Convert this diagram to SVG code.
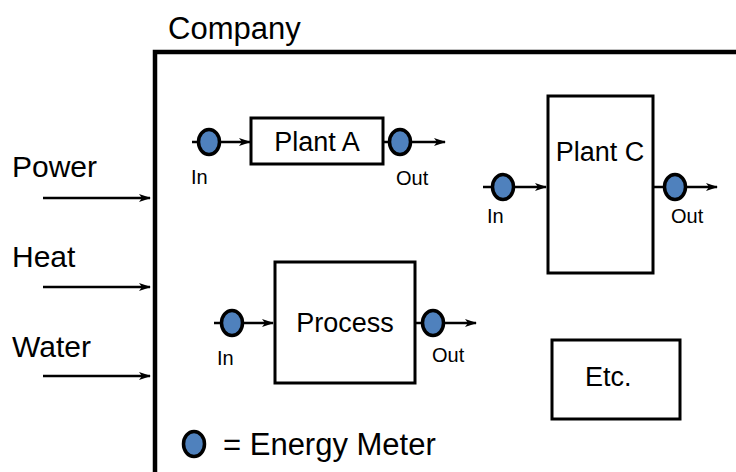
<svg xmlns="http://www.w3.org/2000/svg" width="736" height="472" viewBox="0 0 736 472">
<style>
text{font-family:"Liberation Sans",Arial,sans-serif;fill:#000}
.big{font-size:30px}
.node{font-size:27px}
.small{font-size:20px}
.box{fill:#fff;stroke:#000;stroke-width:3}
.meter{fill:#4F81BD;stroke:#000;stroke-width:3.5}
.arrow{fill:none;stroke:#000;stroke-width:2.5;marker-end:url(#ah)}
</style>
<defs>
<marker id="ah" markerWidth="12" markerHeight="10" refX="11" refY="5" orient="auto" markerUnits="userSpaceOnUse">
<path d="M0,1 L12,5 L0,9 L3,5 Z" fill="#000"/>
</marker>
<ellipse id="m" cx="0" cy="0" rx="10.5" ry="12.5" class="meter"/>
</defs>
<rect width="736" height="472" fill="#fff"/>
<g id="company">
<path d="M155,472 V52 H736" fill="none" stroke="#000" stroke-width="4.5"/>
<text class="big" x="168" y="39" style="font-size:31px">Company</text>
</g>
<g id="inputs">
<text class="big" x="12" y="177">Power</text>
<text class="big" x="12" y="267">Heat</text>
<text class="big" x="12" y="357">Water</text>
</g>
<g id="plantA">
<rect class="box" x="251" y="118" width="132" height="46"/>
<text class="node" x="317" y="151" text-anchor="middle">Plant A</text>
</g>
<g id="plantC">
<rect class="box" x="548" y="96" width="105" height="177"/>
<text class="node" x="600" y="161" text-anchor="middle">Plant C</text>
</g>
<g id="process">
<rect class="box" x="275" y="262" width="140" height="121"/>
<text class="node" x="345" y="332" text-anchor="middle">Process</text>
</g>
<g id="etc">
<rect class="box" x="552" y="340" width="128" height="79" stroke-width="3.5"/>
<text class="node" x="585" y="386">Etc.</text>
</g>
<g id="connectors">
<line class="arrow" x1="43" y1="198" x2="150" y2="198"/>
<line class="arrow" x1="43" y1="287" x2="150" y2="287"/>
<line class="arrow" x1="43" y1="376" x2="150" y2="376"/>
<line class="arrow" x1="192" y1="142" x2="250" y2="142"/>
<line class="arrow" x1="383" y1="142" x2="445" y2="142"/>
<line class="arrow" x1="483" y1="187" x2="546" y2="187"/>
<line class="arrow" x1="653" y1="187" x2="717" y2="187"/>
<line class="arrow" x1="214" y1="323" x2="273" y2="323"/>
<line class="arrow" x1="415" y1="323" x2="476" y2="323"/>
</g>
<g id="meters">
<use href="#m" x="209" y="142"/>
<use href="#m" x="400" y="142"/>
<use href="#m" x="503" y="187"/>
<use href="#m" x="675" y="187"/>
<use href="#m" x="232" y="323"/>
<use href="#m" x="433" y="323"/>
</g>
<g id="labels">
<text class="small" x="191" y="184">In</text>
<text class="small" x="396" y="185">Out</text>
<text class="small" x="487" y="223">In</text>
<text class="small" x="671" y="223">Out</text>
<text class="small" x="217" y="365">In</text>
<text class="small" x="432" y="362">Out</text>
</g>
<g id="legend">
<use href="#m" x="194" y="444"/>
<text class="big" x="223" y="455" style="font-size:31px">= Energy Meter</text>
</g>
</svg>
